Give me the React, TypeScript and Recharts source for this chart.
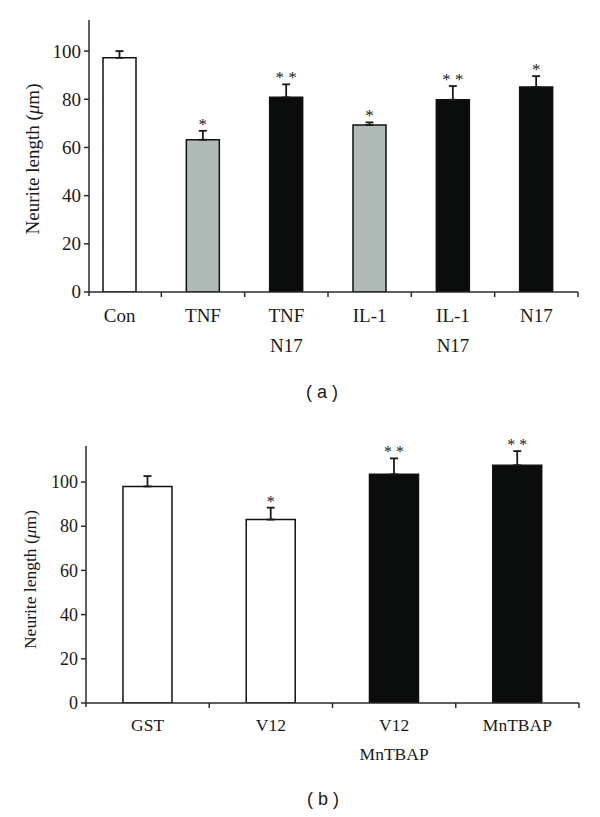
import React from "react";
import { BarChart, Bar, XAxis, YAxis, ErrorBar, Cell, Label } from "recharts";

// ---------- Panel (a) data ----------
const catsA = ["Con", "TNF", "TNF\nN17", "IL-1", "IL-1\nN17", "N17"];
const meansA = [97.2, 63.2, 80.8, 69.3, 79.8, 85.1];
const errsA = [2.8, 3.7, 5.4, 1.1, 5.7, 4.5];
const starsA = ["", "*", "* *", "*", "* *", "*"];
const groupsA = ["white", "gray", "black", "gray", "black", "black"];
const yTicksA = [0, 20, 40, 60, 80, 100];

// ---------- Panel (b) data ----------
const catsB = ["GST", "V12", "V12\nMnTBAP", "MnTBAP"];
const meansB = [98.0, 83.0, 103.5, 107.6];
const errsB = [4.7, 5.4, 7.2, 6.4];
const starsB = ["", "*", "* *", "* *"];
const groupsB = ["white", "white", "black", "black"];
const yTicksB = [0, 20, 40, 60, 80, 100];

const FILLS: Record<string, string> = {
  white: "#ffffff",
  gray: "#b0bbb8",
  black: "#0b0d0c",
};

const SERIF = "'Liberation Serif', 'DejaVu Serif', serif";
const AXIS = "#2b2b2b";
const INK = "#1a1a1a";

const buildRows = (cats: string[], means: number[], errs: number[]) =>
  cats.map((c, i) => ({ name: c, value: means[i], err: [0, errs[i]] }));

const dataA = buildRows(catsA, meansA, errsA);
const dataB = buildRows(catsB, meansB, errsB);

function makeXTick(fontSize: number, dy1: number, dy2: number, fallbackHalf: number, leftPad: number) {
  return (props: any) => {
    const { x, y, payload, index } = props;
    const half = payload && typeof payload.offset === "number" && payload.offset > 0 ? payload.offset : fallbackHalf;
    const lines = String(payload.value).split("\n");
    return (
      <g>
        <line x1={x + half} x2={x + half} y1={y} y2={y + 5} stroke={AXIS} strokeWidth={1.5} />
        {index === 0 && (
          <line x1={x - half + leftPad} x2={x - half + leftPad} y1={y} y2={y + 4} stroke={AXIS} strokeWidth={1.5} />
        )}
        {lines.map((l, i) => (
          <text key={i} x={x} y={y + (i === 0 ? dy1 : dy2)} textAnchor="middle" fontFamily={SERIF} fontSize={fontSize} fill={INK}>
            {l}
          </text>
        ))}
      </g>
    );
  };
}

function makeYTick(fontSize: number) {
  return (props: any) => {
    const { x, y, payload } = props;
    return (
      <text x={x} y={y} dy={fontSize * 0.34} textAnchor="end" fontFamily={SERIF} fontSize={fontSize} fill={INK}>
        {payload.value}
      </text>
    );
  };
}

function makeStarLabel(stars: string[], errs: number[], fontSize: number) {
  return (props: any) => {
    const { x, y, width, height, value, index } = props;
    const s = stars[index];
    if (!s) return null;
    const v = Array.isArray(value) ? value[1] - value[0] : value;
    const ppu = height / v;
    const top = y - errs[index] * ppu;
    return (
      <text x={x + width / 2} y={top - 1} textAnchor="middle" fontFamily={SERIF} fontSize={fontSize} fill="#222222">
        {s}
      </text>
    );
  };
}

function yLabel(fontSize: number, dx: number, dyc: number) {
  return (props: any) => {
    const vb = props.viewBox || { x: 0, y: 0, width: 0, height: 0 };
    const cx = vb.x + dx;
    const cy = vb.y + vb.height / 2 + dyc;
    return (
      <text
        x={cx}
        y={cy}
        transform={`rotate(-90 ${cx} ${cy})`}
        textAnchor="middle"
        dominantBaseline="central"
        fontFamily={SERIF}
        fontSize={fontSize}
        fill={INK}
      >
        Neurite length (<tspan fontStyle="italic">μ</tspan>m)
      </text>
    );
  };
}

const captionStyle: React.CSSProperties = {
  position: "absolute",
  width: 60,
  textAlign: "center",
  fontFamily: "'Liberation Sans', 'DejaVu Sans', sans-serif",
  fontSize: 18,
  color: INK,
  lineHeight: "20px",
};

export default function App() {
  return (
    <div style={{ position: "absolute", left: 0, top: 0, width: 600, height: 817, background: "#fff" }}>
      {/* Panel (a) */}
      <div style={{ position: "absolute", left: 0, top: 0 }}>
        <BarChart
          width={600}
          height={360}
          data={dataA}
          margin={{ top: 20, right: 22, bottom: 0, left: 0 }}
          barCategoryGap="30%"
        >
          <XAxis
            dataKey="name"
            height={68}
            interval={0}
            padding={{ left: -11, right: 0 }}
            tickLine={false}
            tickSize={0}
            tickMargin={0}
            axisLine={{ stroke: AXIS, strokeWidth: 1.5 }}
            tick={makeXTick(19, 29.5, 60, 41.7, 11)}
          />
          <YAxis
            width={89}
            domain={[0, 112.9]}
            ticks={yTicksA}
            allowDataOverflow
            tickSize={5}
            tickMargin={3}
            axisLine={{ stroke: AXIS, strokeWidth: 1.5 }}
            tickLine={{ stroke: AXIS, strokeWidth: 1.5 }}
            tick={makeYTick(19)}
          >
            <Label content={yLabel(19, 32, 3)} />
          </YAxis>
          <Bar dataKey="value" isAnimationActive={false} stroke="#111" strokeWidth={1.5} label={makeStarLabel(starsA, errsA, 17)}>
            {dataA.map((d, i) => (
              <Cell key={i} fill={FILLS[groupsA[i]]} />
            ))}
            <ErrorBar dataKey="err" width={4} stroke={INK} strokeWidth={1.8} isAnimationActive={false} />
          </Bar>
        </BarChart>
      </div>
      <div style={{ ...captionStyle, left: 292, top: 382 }}>( a )</div>

      {/* Panel (b) */}
      <div style={{ position: "absolute", left: 0, top: 400 }}>
        <BarChart
          width={600}
          height={400}
          data={dataB}
          margin={{ top: 46, right: 21, bottom: 0, left: 0 }}
          barCategoryGap="30%"
        >
          <XAxis
            dataKey="name"
            height={97}
            interval={0}
            tickLine={false}
            tickSize={0}
            tickMargin={0}
            axisLine={{ stroke: AXIS, strokeWidth: 1.5 }}
            tick={makeXTick(17.5, 28, 57, 61.6, 0)}
          />
          <YAxis
            width={86}
            domain={[0, 116.3]}
            ticks={yTicksB}
            allowDataOverflow
            tickSize={5}
            tickMargin={3}
            axisLine={{ stroke: AXIS, strokeWidth: 1.5 }}
            tickLine={{ stroke: AXIS, strokeWidth: 1.5 }}
            tick={makeYTick(18)}
          >
            <Label content={yLabel(17.5, 30, 5)} />
          </YAxis>
          <Bar dataKey="value" isAnimationActive={false} stroke="#111" strokeWidth={1.5} label={makeStarLabel(starsB, errsB, 16)}>
            {dataB.map((d, i) => (
              <Cell key={i} fill={FILLS[groupsB[i]]} />
            ))}
            <ErrorBar dataKey="err" width={4} stroke={INK} strokeWidth={1.8} isAnimationActive={false} />
          </Bar>
        </BarChart>
      </div>
      <div style={{ ...captionStyle, left: 293, top: 789 }}>( b )</div>
    </div>
  );
}
